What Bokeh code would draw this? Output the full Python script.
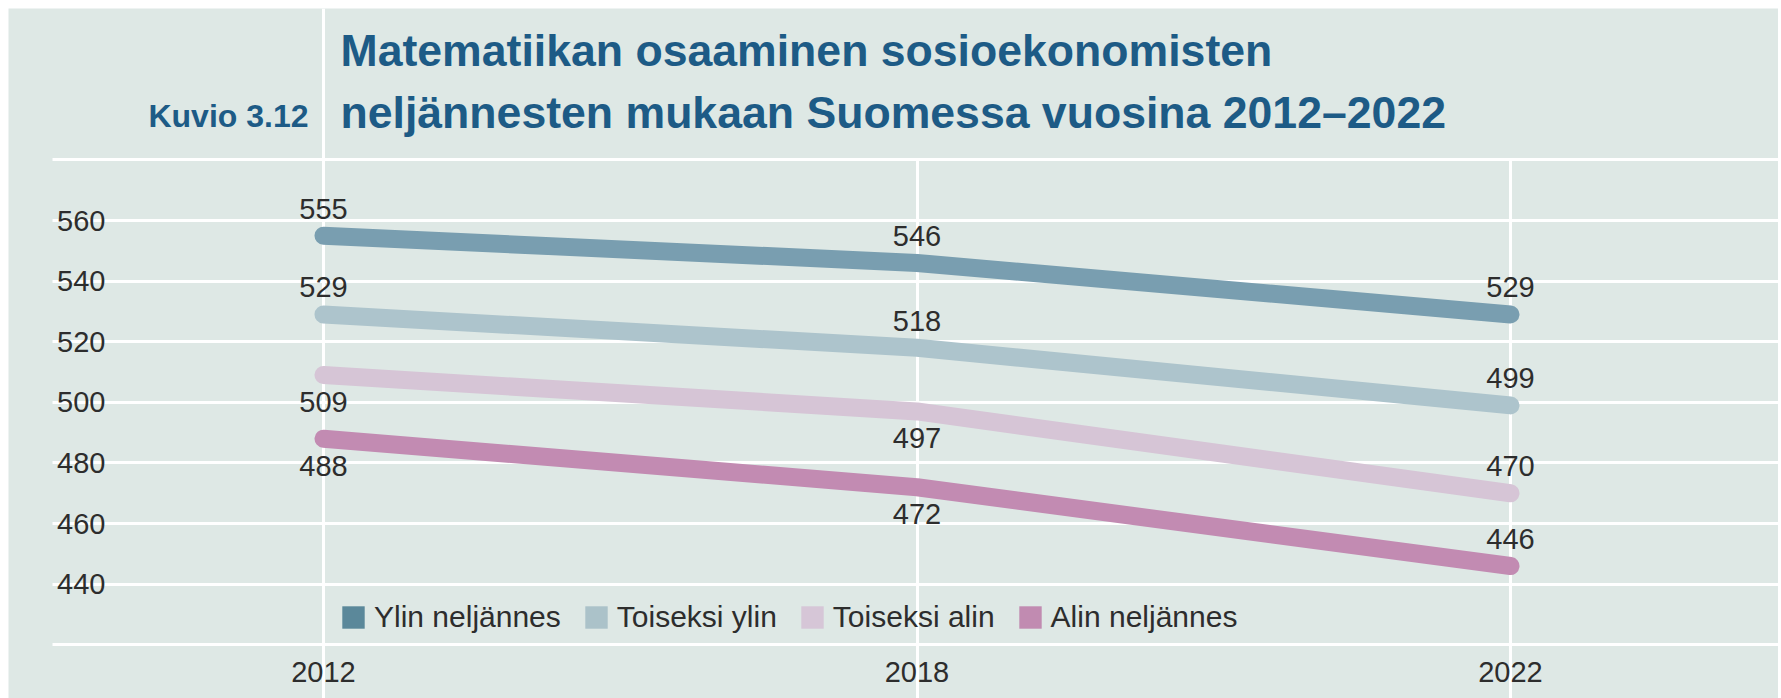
from bokeh.plotting import figure
from bokeh.models import (Range1d, FixedTicker, Grid, Label, Legend, LegendItem,
                          ColumnDataSource)
from bokeh.core.properties import value
from bokeh.embed import file_html
from bokeh.resources import INLINE

# ---------------- data ----------------
years = ["2012", "2018", "2022"]
series_names = ["Ylin neljännes", "Toiseksi ylin", "Toiseksi alin", "Alin neljännes"]
ylin_neljannes = [555, 546, 529]
toiseksi_ylin = [529, 518, 499]
toiseksi_alin = [509, 497, 470]
alin_neljannes = [488, 472, 446]
y_tick_labels = [440, 460, 480, 500, 520, 540, 560]
grid_levels = [420, 440, 460, 480, 500, 520, 540, 560, 580]

title_line1 = "Matematiikan osaaminen sosioekonomisten"
title_line2 = "neljännesten mukaan Suomessa vuosina 2012–2022"
figure_number = "Kuvio 3.12"

# ---------------- styles ----------------
BG = "#dee8e5"
TITLE_COLOR = "#1d5b86"
TEXT_COLOR = "#2d2d2d"
line_colors = ["#799eb0", "#adc4cc", "#d6c5d6", "#c28bb2"]
swatch_colors = ["#5b889a", "#abc2c9", "#d6c6d7", "#c18bb1"]
# label placement: -1 above the point, +1 below it
label_sides = [[-1, -1, -1], [-1, -1, -1], [1, 1, -1], [1, 1, -1]]
LABEL_GAP = 27
FONT = "Liberation Sans"

MARGIN = 8
W, H = 1778, 698            # whole figure (white border on left/top)
FW, FH = W - MARGIN, H - MARGIN  # frame size
X0_PX = 315.0      # first category position (frame px)
DX_PX = 593.5      # distance between categories (px)
Y560_PX = 212.0    # frame y pixel of value 560
PX_PER_UNIT = 3.031

x_start = -X0_PX / DX_PX
x_end = (FW - X0_PX) / DX_PX
y_top = 560 + Y560_PX / PX_PER_UNIT
y_bottom = 560 - (FH - Y560_PX) / PX_PER_UNIT

p = figure(width=W, height=H, x_range=Range1d(x_start, x_end),
           y_range=Range1d(y_bottom, y_top), output_backend="svg",
           toolbar_location=None, min_border=0, min_border_left=MARGIN,
           min_border_top=MARGIN, background_fill_color=BG,
           border_fill_color="white", outline_line_color=None)

xs = list(range(len(years)))

# grids
p.ygrid.ticker = FixedTicker(ticks=grid_levels)
p.ygrid.grid_line_color = "white"
p.ygrid.grid_line_width = 3
p.ygrid.cross_bounds = ((44 - X0_PX) / DX_PX, x_end)

p.xgrid.ticker = FixedTicker(ticks=xs[1:])
p.xgrid.grid_line_color = "white"
p.xgrid.grid_line_width = 3
p.xgrid.cross_bounds = (y_bottom, max(grid_levels))

g0 = Grid(dimension=0, ticker=FixedTicker(ticks=xs[:1]), grid_line_color="white",
          grid_line_width=3)
p.add_layout(g0)

# axes (drawn inside the frame)
p.xaxis.ticker = FixedTicker(ticks=xs)
p.xaxis.major_label_overrides = {i: y for i, y in enumerate(years)}
p.xaxis.fixed_location = 560 - (653.3 - Y560_PX) / PX_PER_UNIT
p.yaxis.ticker = FixedTicker(ticks=y_tick_labels)
p.yaxis.fixed_location = (97.0 - X0_PX) / DX_PX
for ax in (p.xaxis, p.yaxis):
    ax.axis_line_color = None
    ax.major_tick_line_color = None
    ax.minor_tick_line_color = None
    ax.major_tick_out = 0
    ax.major_tick_in = 0
    ax.major_label_standoff = 0
    ax.major_label_text_font = FONT
    ax.major_label_text_font_size = "29px"
    ax.major_label_text_color = TEXT_COLOR

series = [ylin_neljannes, toiseksi_ylin, toiseksi_alin, alin_neljannes]
legend_items = []
nan = float("nan")
for name, vals, lc, sc, sides in zip(series_names, series, line_colors,
                                     swatch_colors, label_sides):
    p.line(x=xs, y=vals, line_width=18, line_color=lc, line_cap="round",
           line_join="round")
    src = ColumnDataSource(dict(x=xs, y=vals, t=[str(v) for v in vals],
                                off=[s * LABEL_GAP for s in sides]))
    p.text(x="x", y="y", text="t", y_offset="off", source=src,
           text_align="center", text_baseline="middle",
           text_font=value(FONT), text_font_size="29px", text_color=TEXT_COLOR)
    # legend-only square swatch (no visible mark in the plot)
    swatch = p.quad(left=[nan], right=[nan], top=[nan], bottom=[nan],
                    fill_color=sc, line_color=None)
    legend_items.append(LegendItem(label=name, renderers=[swatch]))

legend = Legend(items=legend_items, orientation="horizontal", location=(331, 64),
                glyph_width=28, glyph_height=28, label_standoff=7, spacing=21,
                padding=0, margin=0, label_text_font=FONT,
                label_text_font_size="30px", label_text_color=TEXT_COLOR,
                label_text_baseline="middle",
                background_fill_alpha=0, border_line_color=None)
p.add_layout(legend)

p.add_layout(Label(x=332, y=FH - 41.5, x_units="screen", y_units="screen",
                   text=title_line1, text_font=FONT, text_font_style="bold",
                   text_font_size="44.6px", text_color=TITLE_COLOR,
                   text_align="left", text_baseline="alphabetic"))
p.add_layout(Label(x=332, y=FH - 103.5, x_units="screen", y_units="screen",
                   text=title_line2, text_font=FONT, text_font_style="bold",
                   text_font_size="44.6px", text_color=TITLE_COLOR,
                   text_align="left", text_baseline="alphabetic"))
p.add_layout(Label(x=300, y=FH - 107, x_units="screen", y_units="screen",
                   text=figure_number, text_font=FONT, text_font_style="bold",
                   text_font_size="32px", text_color=TITLE_COLOR,
                   text_align="right", text_baseline="alphabetic"))

open("out.html", "w").write(file_html(p, INLINE))
